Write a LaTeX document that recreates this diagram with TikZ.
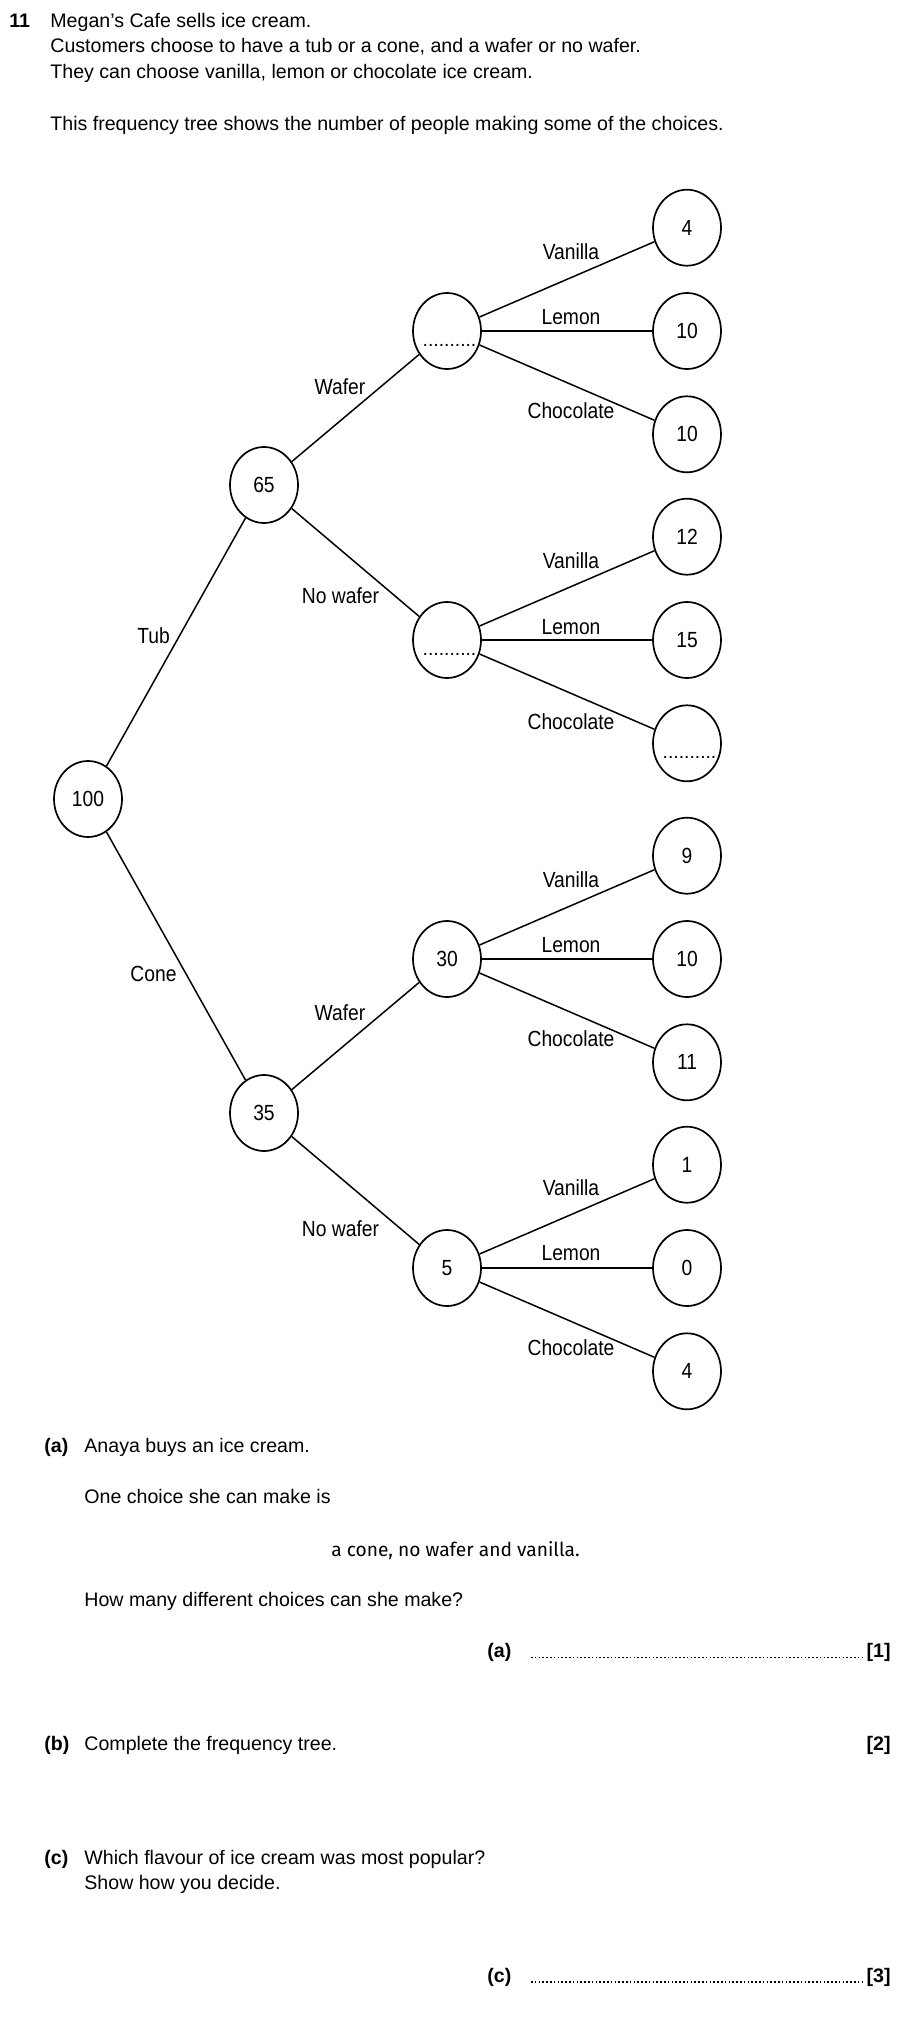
\documentclass[tikz,border=0pt]{standalone}
\usepackage{fontspec}
\setmainfont{Liberation Sans}
\newfontfamily\treefont{Liberation Sans}[FakeStretch=0.88]
\newfontfamily\handfont{Fira Sans}
\usetikzlibrary{shapes.geometric}
\begin{document}
\begin{tikzpicture}[x=0.5pt,y=-0.5pt,
  txt/.style={inner sep=0pt,anchor=base west,font=\fontsize{9.8pt}{12pt}\selectfont},
  bld/.style={txt,font=\fontsize{9.8pt}{12pt}\selectfont\bfseries},
  tn/.style={draw,ellipse,line width=0.85pt,minimum width=34pt,minimum height=38pt,inner sep=0pt,font=\treefont\fontsize{10.95pt}{13pt}\selectfont},
  edge/.style={line width=0.75pt},
  lbl/.style={inner sep=0pt,font=\treefont\fontsize{10.95pt}{13pt}\selectfont},
  ph/.style={inner sep=0pt,anchor=base,font=\fontsize{9.65pt}{12pt}\selectfont},
  ans/.style={line width=0.8pt,dash pattern=on 0.8pt off 1.1pt}
]
\useasboundingbox (0,0) rectangle (900,2029);

% header text
\node[bld] (qnum) at (9,27.7) {11};
\node[txt] (l1) at (50,27.7) {Megan's Cafe sells ice cream.};
\node[txt] (l2) at (50,53) {Customers choose to have a tub or a cone, and a wafer or no wafer.};
\node[txt] (l3) at (50,78.3) {They can choose vanilla, lemon or chocolate ice cream.};
\node[txt] (l4) at (50,130) {This frequency tree shows the number of people making some of the choices.};

% tree nodes
\node[tn] (root) at (88,799) {100};
\node[tn] (tub) at (264,485) {65};
\node[tn] (cone) at (264,1113) {35};
\node[tn] (tw) at (447,331) {};
\node[tn] (tn) at (447,640) {};
\node[tn] (cw) at (447,959) {30};
\node[tn] (cn) at (447,1268) {5};

\node[tn] (twv) at (687,227.7) {4};
\node[tn] (twl) at (687,331) {10};
\node[tn] (twc) at (687,434.3) {10};
\node[tn] (tnv) at (687,536.7) {12};
\node[tn] (tnl) at (687,640) {15};
\node[tn] (tnc) at (687,743.3) {};
\node[tn] (cwv) at (687,855.7) {9};
\node[tn] (cwl) at (687,959) {10};
\node[tn] (cwc) at (687,1062.3) {11};
\node[tn] (cnv) at (687,1164.7) {1};
\node[tn] (cnl) at (687,1268) {0};
\node[tn] (cnc) at (687,1371.3) {4};

% placeholders
\node[ph] (ph1) at (449.5,346.5) {..........};
\node[ph] (ph2) at (449.5,655.5) {..........};
\node[ph] (ph3) at (689.5,758.5) {..........};

% edges
\draw[edge] (root) -- (tub);
\draw[edge] (root) -- (cone);
\draw[edge] (tub) -- (tw);
\draw[edge] (tub) -- (tn);
\draw[edge] (cone) -- (cw);
\draw[edge] (cone) -- (cn);
\foreach \m in {tw,tn,cw,cn}{
  \draw[edge] (\m) -- (\m v);
  \draw[edge] (\m) -- (\m l);
  \draw[edge] (\m) -- (\m c);
}

% edge labels
\node[lbl] (ltub) at (153.5,636) {Tub};
\node[lbl] (lcone) at (153.5,974) {Cone};
\node[lbl] (ltw) at (340,387) {Wafer};
\node[lbl] (ltn) at (340.5,595.7) {No wafer};
\node[lbl] (lcw) at (340,1012.7) {Wafer};
\node[lbl] (lcn) at (340.5,1228.3) {No wafer};

\node[lbl] (a1) at (571,251.7) {Vanilla};
\node[lbl] (a2) at (571,316.7) {Lemon};
\node[lbl] (a3) at (571,411) {Chocolate};
\node[lbl] (b1) at (571,561) {Vanilla};
\node[lbl] (b2) at (571,626.7) {Lemon};
\node[lbl] (b3) at (571,721.7) {Chocolate};
\node[lbl] (c1) at (571,880) {Vanilla};
\node[lbl] (c2) at (571,945) {Lemon};
\node[lbl] (c3) at (571,1039) {Chocolate};
\node[lbl] (d1) at (571,1187.7) {Vanilla};
\node[lbl] (d2) at (571,1252.7) {Lemon};
\node[lbl] (d3) at (571,1347.3) {Chocolate};

% questions
\node[bld] (pa) at (44,1452) {(a)};
\node[txt] (pa1) at (84,1452) {Anaya buys an ice cream.};
\node[txt] (pa2) at (84,1503.5) {One choice she can make is};
\node[txt,font=\handfont\fontsize{9.6pt}{12pt}\selectfont] (pa3) at (331,1556) {a cone, no wafer and vanilla.};
\node[txt] (pa4) at (84,1606.5) {How many different choices can she make?};
\node[bld] (pa5) at (487,1657.5) {(a)};
\coordinate (da1) at (531,1657.5);
\coordinate (da2) at (862,1657.5);
\draw[ans] (da1) -- (da2);
\node[bld,anchor=base east] (m1) at (891,1657.5) {[1]};

\node[bld] (pb) at (44,1750) {(b)};
\node[txt] (pb1) at (84,1750) {Complete the frequency tree.};
\node[bld,anchor=base east] (m2) at (891,1750) {[2]};

\node[bld] (pc) at (44,1864) {(c)};
\node[txt] (pc1) at (84,1864) {Which flavour of ice cream was most popular?};
\node[txt] (pc2) at (84,1889.5) {Show how you decide.};
\node[bld] (pc3) at (487,1982) {(c)};
\coordinate (dc1) at (531,1982);
\coordinate (dc2) at (862,1982);
\draw[ans] (dc1) -- (dc2);
\node[bld,anchor=base east] (m3) at (891,1982) {[3]};
\end{tikzpicture}
\end{document}
